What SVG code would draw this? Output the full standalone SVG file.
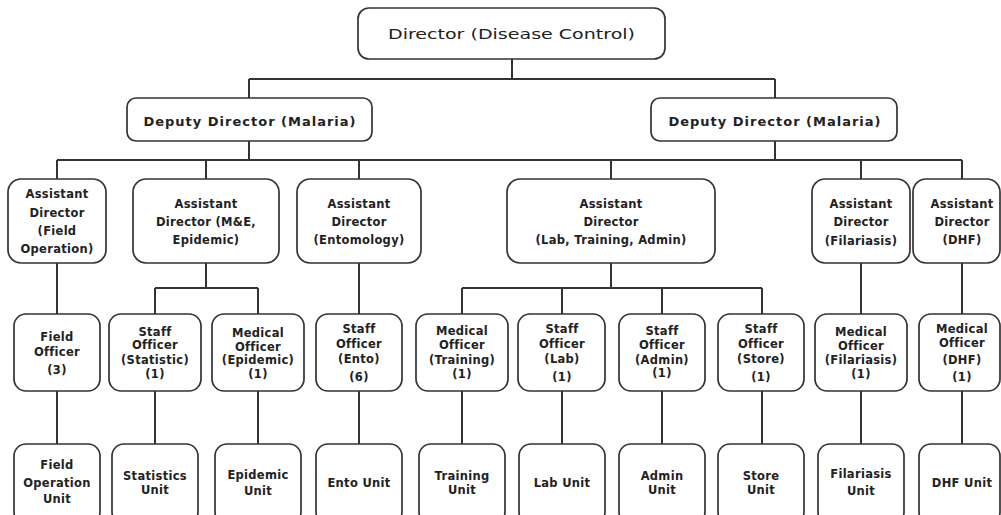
<svg xmlns="http://www.w3.org/2000/svg" width="1001" height="515" viewBox="0 0 1001 515">
<style>
rect.b{fill:#fff;stroke:#333;stroke-width:1.7}
.c path{fill:none;stroke:#333;stroke-width:2}
text{font-family:"DejaVu Sans","Liberation Sans",sans-serif;fill:#222;text-anchor:middle}
.top{font-size:14px;font-weight:normal}
.dep{font-size:13px;font-weight:bold;letter-spacing:1px}
.s{font-size:11.5px;font-weight:bold;letter-spacing:0.3px}
</style>
<rect width="1001" height="515" fill="#fff"/>
<g class="c" id="connectors">
<path d="M512 59V79M249 79H775M249 79V98M775 79V98"/>
<path d="M249 141V160M775 141V160M57 160H962M57 160V179M206 160V179M359 160V179M611 160V179M861 160V179M962 160V179"/>
<path d="M57 263V314M206 263V288M155 288H258M155 288V314M258 288V314M359 263V314"/>
<path d="M611 263V288M462 288H762M462 288V314M562 288V314M662 288V314M762 288V314M861 263V314M962 263V314"/>
<path d="M57 391V444M155 391V444M258 391V444M359 391V444M462 391V444M562 391V444M662 391V444M762 391V444M861 391V444M962 391V444"/>
</g>
<g id="director"><rect class="b" x="358" y="8" width="307" height="51" rx="11"/><text class="top" x="511.5" y="39" textLength="247" lengthAdjust="spacingAndGlyphs">Director (Disease Control)</text></g>
<g id="deputy1"><rect class="b" x="127" y="98" width="245" height="43" rx="9"/><text class="dep" x="250" y="126">Deputy Director (Malaria)</text></g>
<g id="deputy2"><rect class="b" x="651" y="98" width="246" height="43" rx="9"/><text class="dep" x="775" y="126">Deputy Director (Malaria)</text></g>

<g id="ad-field"><rect class="b" x="8" y="179" width="98" height="84" rx="13"/><text class="s"><tspan x="57" y="198">Assistant</tspan><tspan x="57" y="217">Director</tspan><tspan x="57" y="235">(Field</tspan><tspan x="57" y="253">Operation)</tspan></text></g>
<g id="ad-me"><rect class="b" x="133" y="179" width="146" height="84" rx="13"/><text class="s"><tspan x="206" y="208">Assistant</tspan><tspan x="206" y="226">Director (M&amp;E,</tspan><tspan x="206" y="244">Epidemic)</tspan></text></g>
<g id="ad-ento"><rect class="b" x="297" y="179" width="124" height="84" rx="13"/><text class="s"><tspan x="359" y="208">Assistant</tspan><tspan x="359" y="226">Director</tspan><tspan x="359" y="244">(Entomology)</tspan></text></g>
<g id="ad-lab"><rect class="b" x="507" y="179" width="208" height="84" rx="13"/><text class="s"><tspan x="611" y="208">Assistant</tspan><tspan x="611" y="226">Director</tspan><tspan x="611" y="244">(Lab, Training, Admin)</tspan></text></g>
<g id="ad-fil"><rect class="b" x="812" y="179" width="98" height="84" rx="13"/><text class="s"><tspan x="861" y="208">Assistant</tspan><tspan x="861" y="226">Director</tspan><tspan x="861" y="245">(Filariasis)</tspan></text></g>
<g id="ad-dhf"><rect class="b" x="913" y="179" width="87" height="84" rx="13"/><text class="s"><tspan x="962" y="208">Assistant</tspan><tspan x="962" y="226">Director</tspan><tspan x="962" y="244">(DHF)</tspan></text></g>

<g id="of-field"><rect class="b" x="14" y="314" width="86" height="77" rx="12"/><text class="s"><tspan x="57" y="341">Field</tspan><tspan x="57" y="356">Officer</tspan><tspan x="57" y="374">(3)</tspan></text></g>
<g id="of-stat"><rect class="b" x="109" y="314" width="92" height="77" rx="12"/><text class="s"><tspan x="155" y="336">Staff</tspan><tspan x="155" y="349">Officer</tspan><tspan x="155" y="364">(Statistic)</tspan><tspan x="155" y="378">(1)</tspan></text></g>
<g id="of-epi"><rect class="b" x="212" y="314" width="92" height="77" rx="12"/><text class="s"><tspan x="258" y="337">Medical</tspan><tspan x="258" y="351">Officer</tspan><tspan x="258" y="364">(Epidemic)</tspan><tspan x="258" y="378">(1)</tspan></text></g>
<g id="of-ento"><rect class="b" x="316" y="314" width="86" height="77" rx="12"/><text class="s"><tspan x="359" y="333">Staff</tspan><tspan x="359" y="348">Officer</tspan><tspan x="359" y="363">(Ento)</tspan><tspan x="359" y="381">(6)</tspan></text></g>
<g id="of-train"><rect class="b" x="416" y="314" width="92" height="77" rx="12"/><text class="s"><tspan x="462" y="335">Medical</tspan><tspan x="462" y="349">Officer</tspan><tspan x="462" y="364">(Training)</tspan><tspan x="462" y="378">(1)</tspan></text></g>
<g id="of-lab"><rect class="b" x="518" y="314" width="87" height="77" rx="12"/><text class="s"><tspan x="562" y="333">Staff</tspan><tspan x="562" y="348">Officer</tspan><tspan x="562" y="363">(Lab)</tspan><tspan x="562" y="381">(1)</tspan></text></g>
<g id="of-admin"><rect class="b" x="619" y="314" width="86" height="77" rx="12"/><text class="s"><tspan x="662" y="335">Staff</tspan><tspan x="662" y="349">Officer</tspan><tspan x="662" y="364">(Admin)</tspan><tspan x="662" y="377">(1)</tspan></text></g>
<g id="of-store"><rect class="b" x="718" y="314" width="86" height="77" rx="12"/><text class="s"><tspan x="761" y="333">Staff</tspan><tspan x="761" y="348">Officer</tspan><tspan x="761" y="363">(Store)</tspan><tspan x="761" y="381">(1)</tspan></text></g>
<g id="of-fil"><rect class="b" x="815" y="314" width="92" height="77" rx="12"/><text class="s"><tspan x="861" y="336">Medical</tspan><tspan x="861" y="350">Officer</tspan><tspan x="861" y="364">(Filariasis)</tspan><tspan x="861" y="378">(1)</tspan></text></g>
<g id="of-dhf"><rect class="b" x="919" y="314" width="81" height="77" rx="12"/><text class="s"><tspan x="962" y="333">Medical</tspan><tspan x="962" y="347">Officer</tspan><tspan x="962" y="364">(DHF)</tspan><tspan x="962" y="381">(1)</tspan></text></g>

<g id="u-field"><rect class="b" x="14" y="444" width="86" height="80" rx="12"/><text class="s"><tspan x="57" y="469">Field</tspan><tspan x="57" y="487">Operation</tspan><tspan x="57" y="503">Unit</tspan></text></g>
<g id="u-stat"><rect class="b" x="112" y="444" width="86" height="80" rx="12"/><text class="s"><tspan x="155" y="480">Statistics</tspan><tspan x="155" y="494">Unit</tspan></text></g>
<g id="u-epi"><rect class="b" x="215" y="444" width="86" height="80" rx="12"/><text class="s"><tspan x="258" y="479">Epidemic</tspan><tspan x="258" y="495">Unit</tspan></text></g>
<g id="u-ento"><rect class="b" x="316" y="444" width="86" height="80" rx="12"/><text class="s" x="359" y="487">Ento Unit</text></g>
<g id="u-train"><rect class="b" x="419" y="444" width="86" height="80" rx="12"/><text class="s"><tspan x="462" y="480">Training</tspan><tspan x="462" y="494">Unit</tspan></text></g>
<g id="u-lab"><rect class="b" x="519" y="444" width="86" height="80" rx="12"/><text class="s" x="562" y="487">Lab Unit</text></g>
<g id="u-admin"><rect class="b" x="619" y="444" width="86" height="80" rx="12"/><text class="s"><tspan x="662" y="480">Admin</tspan><tspan x="662" y="494">Unit</tspan></text></g>
<g id="u-store"><rect class="b" x="718" y="444" width="86" height="80" rx="12"/><text class="s"><tspan x="761" y="480">Store</tspan><tspan x="761" y="494">Unit</tspan></text></g>
<g id="u-fil"><rect class="b" x="818" y="444" width="86" height="80" rx="12"/><text class="s"><tspan x="861" y="478">Filariasis</tspan><tspan x="861" y="495">Unit</tspan></text></g>
<g id="u-dhf"><rect class="b" x="919" y="444" width="81" height="80" rx="12"/><text class="s" x="962" y="487">DHF Unit</text></g>
</svg>
